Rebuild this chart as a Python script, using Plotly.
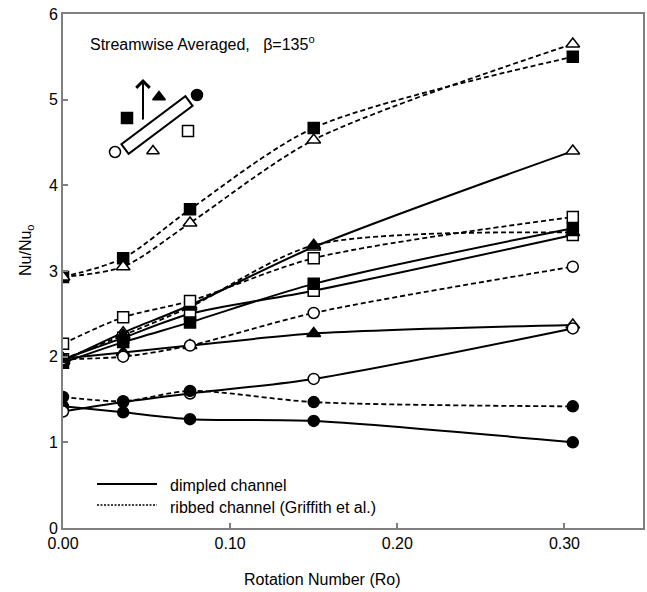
import plotly.graph_objects as go

# ---------------- data ----------------
ro = [0.0, 0.036, 0.076, 0.15, 0.305]

# ribbed channel (Griffith et al.) - dashed
rib_fsq = [2.93, 3.15, 3.72, 4.67, 5.50]
rib_otri = [2.93, 3.05, 3.56, 4.53, 5.65]
rib_osq = [2.15, 2.46, 2.65, 3.15, 3.63]
rib_ftri = [1.97, 2.25, 2.58, 3.30, 3.45]
rib_ocir = [1.97, 2.00, 2.13, 2.51, 3.05]
rib_fcir = [1.53, 1.48, 1.60, 1.47, 1.42]

# dimpled channel - solid
dim_tri_hi = [1.95, 2.28, 2.60, 3.28, 4.40]
dim_fsq = [1.93, 2.17, 2.40, 2.85, 3.50]
dim_osq = [1.97, 2.22, 2.50, 2.77, 3.42]
dim_tri_lo = [1.98, 2.05, 2.13, 2.27, 2.37]
dim_ocir = [1.36, 1.47, 1.57, 1.74, 2.33]
dim_fcir = [1.42, 1.35, 1.27, 1.25, 1.00]

x_ticks = [0.0, 0.1, 0.2, 0.3]
x_ticklabels = ["0.00", "0.10", "0.20", "0.30"]
y_ticks = [0, 1, 2, 3, 4, 5, 6]

# ---------------- styles ----------------
W, H = 647, 592
FONT = "Liberation Sans, Arial, sans-serif"
K, Wt = "black", "white"
SIZES = {"square": 11, "triangle-up": 12, "circle": 11}

fig = go.Figure()


def add_series(y, symbol, fills, dashed):
    fig.add_trace(go.Scatter(
        x=ro, y=y, mode="lines+markers", showlegend=False,
        line=dict(color="black", width=2 if not dashed else 1.8,
                  dash="5px,3px" if dashed else "solid", shape="spline", smoothing=0.8),
        marker=dict(symbol=symbol, size=SIZES[symbol], color=fills,
                    line=dict(color="black", width=1.5)),
        xaxis="x", yaxis="y"))


# dimpled (solid)
add_series(dim_fcir, "circle", [K] * 5, False)
add_series(dim_tri_lo, "triangle-up", [K, K, Wt, K, Wt], False)
add_series(dim_ocir, "circle", [Wt] * 5, False)
add_series(dim_tri_hi, "triangle-up", [Wt] * 5, False)
add_series(dim_osq, "square", [Wt] * 5, False)
add_series(dim_fsq, "square", [K] * 5, False)

# ribbed (dashed)
add_series(rib_fcir, "circle", [K] * 5, True)
add_series(rib_ocir, "circle", [Wt] * 5, True)
add_series(rib_ftri, "triangle-up", [K] * 5, True)
add_series(rib_osq, "square", [Wt] * 5, True)
add_series(rib_fsq, "square", [K] * 5, True)
add_series(rib_otri, "triangle-up", [Wt] * 5, True)

# ---------------- inset schematic (pixel coordinates on overlay axes) ----------------
inset_pts = [  # (x_px, y_px, symbol, fill)
    (127, 118, "square", K), (159, 97, "triangle-up", K), (197, 95, "circle", K),
    (188, 131, "square", Wt), (153, 151, "triangle-up", Wt), (115, 152, "circle", Wt),
]
fig.add_trace(go.Scatter(
    x=[p[0] for p in inset_pts], y=[p[1] for p in inset_pts], mode="markers",
    showlegend=False, hoverinfo="skip",
    marker=dict(symbol=[p[2] for p in inset_pts], size=11,
                color=[p[3] for p in inset_pts], line=dict(color="black", width=1.5)),
    xaxis="x2", yaxis="y2"))

shapes = [
    dict(type="path", xref="x2", yref="y2",
         path="M 128.6 153.8 L 121.4 144.2 L 185.4 96.2 L 192.6 105.8 Z",
         line=dict(color="black", width=2), fillcolor="white"),
    # legend samples
    dict(type="line", xref="x2", yref="y2", x0=97, x1=157, y0=484, y1=484,
         line=dict(color="black", width=2)),
    dict(type="line", xref="x2", yref="y2", x0=97, x1=157, y0=505, y1=505,
         line=dict(color="black", width=1.5, dash="2px,1.5px")),
]

annotations = [
    dict(x=143, y=79, ax=143, ay=121, xref="x2", yref="y2", axref="x2", ayref="y2",
         showarrow=True, arrowhead=4, arrowsize=1.3, arrowwidth=2, arrowcolor="black", text=""),
    dict(x=88, y=43, xref="x2", yref="y2", xanchor="left", yanchor="middle", showarrow=False,
         text="Streamwise Averaged,   β=135<sup>o</sup>", font=dict(size=16, color="black")),
    dict(x=168, y=485, xref="x2", yref="y2", xanchor="left", yanchor="middle", showarrow=False,
         text="dimpled channel", font=dict(size=16, color="black")),
    dict(x=168, y=507, xref="x2", yref="y2", xanchor="left", yanchor="middle", showarrow=False,
         text="ribbed channel (Griffith et al.)", font=dict(size=16, color="black")),
    dict(x=322, y=579, xref="x2", yref="y2", xanchor="center", yanchor="middle", showarrow=False,
         text="Rotation Number (Ro)", font=dict(size=16, color="black")),
    dict(x=26, y=250, xref="x2", yref="y2", xanchor="center", yanchor="middle", showarrow=False,
         textangle=-90, text="Nu/Nu<sub>o</sub>", font=dict(size=16, color="black")),
]

L, R, T, B = 63, 643, 14, 528
fig.update_layout(
    width=W, height=H, margin=dict(l=0, r=0, t=0, b=0, pad=0, autoexpand=False),
    paper_bgcolor="white", plot_bgcolor="rgba(0,0,0,0)",
    font=dict(family=FONT, size=16, color="black"),
    xaxis=dict(domain=[L / W, R / W], range=[0, 0.347], tickvals=x_ticks, ticktext=x_ticklabels,
               ticks="inside", ticklen=5, tickwidth=1.5, tickcolor="#808080",
               showline=True, linecolor="#808080", linewidth=2, mirror=True,
               showgrid=False, zeroline=False, tickfont=dict(size=16), automargin=False),
    yaxis=dict(domain=[1 - B / H, 1 - T / H], range=[0, 6], tickvals=y_ticks,
               ticks="inside", ticklen=5, tickwidth=1.5, tickcolor="#808080",
               showline=True, linecolor="#808080", linewidth=2, mirror=True,
               showgrid=False, zeroline=False, tickfont=dict(size=16), automargin=False),
    xaxis2=dict(domain=[0, 1], range=[0, W], visible=False, anchor="y2", fixedrange=True,
                automargin=False),
    yaxis2=dict(domain=[0, 1], range=[H, 0], visible=False, anchor="x2", fixedrange=True,
                automargin=False),
    shapes=shapes, annotations=annotations,
)

fig.write_html(
    "out.html",
    config={"displayModeBar": False},
    post_script="document.body.style.margin='0';document.body.style.padding='0';"
                "document.body.style.overflow='hidden';",
)
